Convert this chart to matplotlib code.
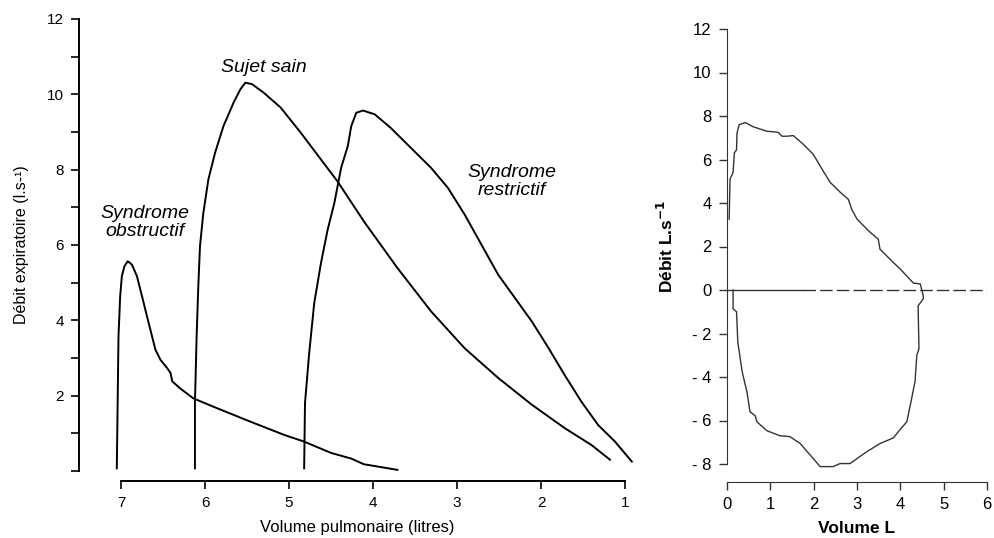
import matplotlib
matplotlib.use("Agg")
import matplotlib.pyplot as plt

plt.rcParams['font.family'] = ['Liberation Sans', 'DejaVu Sans']

# ---- Left panel data: volume (L), flow (L/s) ----
obs_vol  = [7.05, 7.04, 7.03, 7.01, 6.99, 6.96, 6.92, 6.87, 6.81, 6.75, 6.69, 6.63, 6.59, 6.53, 6.45, 6.41, 6.39, 6.30, 6.14, 5.86, 5.46, 5.06, 4.82, 4.50, 4.26, 4.11, 3.71]
obs_flow = [0.07, 1.80, 3.57, 4.64, 5.17, 5.43, 5.57, 5.48, 5.17, 4.64, 4.10, 3.57, 3.22, 2.95, 2.73, 2.60, 2.38, 2.20, 1.93, 1.67, 1.31, 0.96, 0.78, 0.48, 0.33, 0.18, 0.03]

sain_vol  = [6.12, 6.12, 6.10, 6.08, 6.06, 6.02, 5.96, 5.88, 5.78, 5.66, 5.58, 5.52, 5.44, 5.30, 5.10, 4.86, 4.62, 4.42, 4.11, 3.71, 3.31, 2.91, 2.51, 2.11, 1.72, 1.40, 1.18]
sain_flow = [0.07, 1.80, 3.57, 4.90, 5.97, 6.85, 7.74, 8.45, 9.16, 9.78, 10.13, 10.31, 10.27, 10.04, 9.65, 8.98, 8.27, 7.68, 6.63, 5.39, 4.24, 3.26, 2.47, 1.76, 1.14, 0.69, 0.30]

res_vol  = [4.82, 4.81, 4.76, 4.70, 4.62, 4.54, 4.46, 4.38, 4.30, 4.26, 4.20, 4.12, 3.98, 3.79, 3.55, 3.31, 3.11, 2.91, 2.71, 2.51, 2.31, 2.11, 1.91, 1.72, 1.52, 1.32, 1.12, 0.92]
res_flow = [0.07, 1.80, 3.13, 4.46, 5.52, 6.41, 7.12, 8.05, 8.63, 9.15, 9.51, 9.57, 9.47, 9.11, 8.58, 8.05, 7.52, 6.81, 6.01, 5.21, 4.59, 3.97, 3.26, 2.55, 1.84, 1.22, 0.78, 0.25]

left_xticks = [7, 6, 5, 4, 3, 2, 1]
left_yticks = list(range(0, 13))

# ---- Right panel data: flow-volume loop ----
loop_vol  = [0.05, 0.07, 0.14, 0.17, 0.22, 0.23, 0.28, 0.42, 0.61, 0.92, 1.18, 1.27, 1.38, 1.53, 1.76, 1.99, 2.15, 2.38, 2.61, 2.80, 2.88, 3.00, 3.30, 3.49, 3.53, 3.83, 4.00, 4.15, 4.30, 4.46, 4.53,
             4.53, 4.41, 4.43, 4.38, 4.34, 4.25, 4.15, 4.00, 3.84, 3.53, 3.23, 3.00, 2.84, 2.61, 2.45, 2.15, 1.99, 1.85, 1.69, 1.45, 1.22, 0.92, 0.69, 0.65, 0.53, 0.46, 0.35, 0.25, 0.22, 0.14, 0.14]
loop_flow = [3.26, 5.10, 5.40, 6.30, 6.45, 7.20, 7.60, 7.70, 7.50, 7.30, 7.25, 7.07, 7.07, 7.10, 6.70, 6.24, 5.70, 4.95, 4.50, 4.17, 3.70, 3.26, 2.66, 2.34, 1.88, 1.28, 0.96, 0.64, 0.32, 0.28, -0.28,
             -0.41, -0.73, -2.70, -3.00, -4.20, -5.10, -6.06, -6.40, -6.80, -7.06, -7.43, -7.75, -7.98, -7.98, -8.12, -8.12, -7.75, -7.43, -7.06, -6.74, -6.70, -6.47, -6.06, -5.78, -5.60, -4.68, -3.76, -2.40, -1.00, -0.87, 0.0]

right_xticks = [0, 1, 2, 3, 4, 5, 6]
right_yticks = [12, 10, 8, 6, 4, 2, 0, -2, -4, -6, -8]

W, H = 994, 538
fig = plt.figure(figsize=(W / 100, H / 100), dpi=100)

# ---------------- Left panel ----------------
axL = fig.add_axes([79 / W, 1 - 471 / H, (636 - 79) / W, (471 - 19) / H])
for xs, ys in [(obs_vol, obs_flow), (sain_vol, sain_flow), (res_vol, res_flow)]:
    axL.plot(xs, ys, color='black', lw=1.4, solid_joinstyle='round')
axL.set_xlim(7.5, 0.87)
axL.set_ylim(0, 12)
for s in ['top', 'right']:
    axL.spines[s].set_visible(False)
axL.spines['left'].set_bounds(0, 12)
axL.spines['bottom'].set_bounds(7, 1)
axL.spines['bottom'].set_position(('outward', 7))
axL.spines['left'].set_linewidth(1.4)
axL.spines['bottom'].set_linewidth(1.4)
axL.set_yticks(left_yticks)
axL.set_yticklabels(['' if (v == 0 or v % 2) else str(v) for v in left_yticks])
axL.set_xticks(left_xticks)
axL.set_xticklabels([str(v) for v in left_xticks])
axL.tick_params(axis='both', direction='out', length=6, width=1.2, labelsize=11, pad=5)
axL.set_xlabel('Volume pulmonaire (litres)', fontsize=12, labelpad=7)
axL.set_ylabel('Débit expiratoire (l.s-¹)', fontsize=11.5, labelpad=13)
axL.text(5.30, 10.72, 'Sujet sain', fontsize=14, style='italic', ha='center', va='center')
axL.text(6.71, 6.6, 'Syndrome\nobstructif', fontsize=14, style='italic', ha='center', va='center', linespacing=1.05)
axL.text(2.35, 7.69, 'Syndrome\nrestrictif', fontsize=14, style='italic', ha='center', va='center', linespacing=1.05)

# ---------------- Right panel ----------------
axR = fig.add_axes([727 / W, 1 - 464 / H, (987 - 727) / W, (464 - 29) / H])
axR.plot(loop_vol, loop_flow, color='#333333', lw=1.0, clip_on=False)
axR.plot([0, 1.75], [0, 0], color='#333333', lw=1.0)
axR.plot([1.75, 6], [0, 0], color='#333333', lw=1.0, dashes=(9, 3))
axR.set_xlim(0, 6)
axR.set_ylim(-8, 12)
for s in ['top', 'right']:
    axR.spines[s].set_visible(False)
axR.spines['bottom'].set_position(('outward', 13))
axR.spines['left'].set_color('#333333')
axR.spines['bottom'].set_color('#333333')
axR.set_xticks(right_xticks)
axR.set_xticklabels([str(v) for v in right_xticks])
axR.set_yticks(right_yticks)
axR.set_yticklabels([('- ' + str(-v)) if v < 0 else str(v) for v in right_yticks])
axR.tick_params(axis='both', direction='out', length=6, width=1.0, color='#333333', labelsize=12, pad=5)
axR.set_xlabel('Volume L', fontsize=12.5, fontweight='bold', labelpad=6)
axR.set_ylabel('Débit L.s$^{\\mathbf{-1}}$', fontsize=12.5, fontweight='bold', labelpad=12)

fig.savefig('out.png', dpi=100)
